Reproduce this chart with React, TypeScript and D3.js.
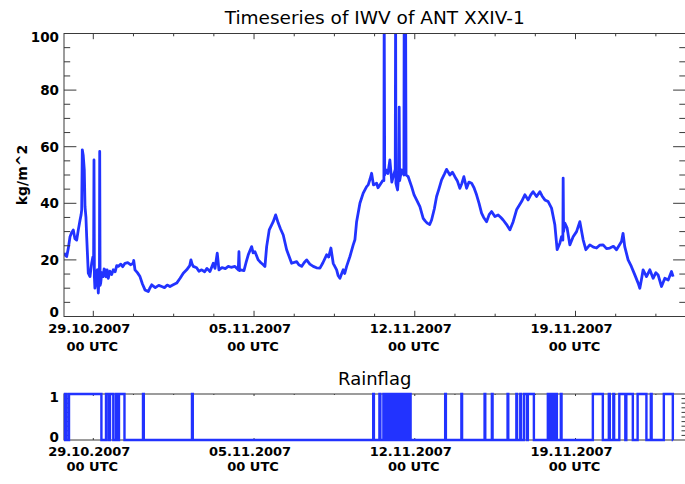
import React from "react";
import * as d3 from "d3";

// ---------- data ----------
// time in days since 29.10.2007 00 UTC
const iwvDays = [
  -1.276, -1.2, -1.158, -1.09, -1.014, -0.95, -0.871, -0.8, -0.723, -0.653, -0.579, -0.53, -0.505, -0.479, -0.44,
  -0.392, -0.361, -0.32, -0.287, -0.218, -0.144, -0.1, -0.07, -0.02, 0.013, 0.03, 0.048, 0.07, 0.104, 0.14, 0.174,
  0.218, 0.245, 0.266, 0.279, 0.296, 0.322, 0.37, 0.435, 0.47, 0.509, 0.56, 0.6, 0.653, 0.72, 0.8, 0.871, 0.95,
  1.02, 1.088, 1.2, 1.28, 1.38, 1.5, 1.62, 1.741, 1.76, 1.815, 1.92, 2.033, 2.14, 2.251, 2.394, 2.46, 2.542, 2.7,
  2.85, 2.978, 3.1, 3.22, 3.339, 3.48, 3.631, 3.78, 3.918, 4.066, 4.2, 4.253, 4.3, 4.354, 4.5, 4.6, 4.719, 4.85,
  4.95, 5.081, 5.224, 5.3, 5.398, 5.472, 5.6, 5.75, 5.877, 6.0, 6.169, 6.313, 6.343, 6.37, 6.417, 6.561, 6.65,
  6.748, 6.896, 6.96, 7.04, 7.183, 7.3, 7.401, 7.475, 7.549, 7.662, 7.836, 7.941, 8.054, 8.15, 8.272, 8.42, 8.637,
  8.855, 8.95, 9.073, 9.18, 9.29, 9.43, 9.578, 9.72, 9.87, 10.0, 10.161, 10.25, 10.348, 10.448, 10.597, 10.66,
  10.74, 10.81, 10.884, 10.95, 11.032, 11.176, 11.319, 11.393, 11.467, 11.611, 11.754, 11.903, 11.972, 12.05,
  12.12, 12.2, 12.338, 12.4, 12.481, 12.6, 12.655, 12.668, 12.69, 12.742, 12.83, 12.916, 13.0, 13.061, 13.15,
  13.165, 13.18, 13.25, 13.3, 13.321, 13.34, 13.425, 13.526, 13.539, 13.56, 13.6, 13.62, 13.714, 13.862, 13.97,
  14.079, 14.223, 14.367, 14.45, 14.541, 14.65, 14.732, 14.85, 14.95, 15.05, 15.168, 15.3, 15.385, 15.529, 15.64,
  15.747, 15.85, 15.964, 16.05, 16.139, 16.256, 16.36, 16.474, 16.58, 16.691, 16.8, 16.909, 17.0, 17.127, 17.24,
  17.345, 17.488, 17.632, 17.75, 17.849, 18.0, 18.141, 18.285, 18.433, 18.651, 18.794, 18.938, 19.05, 19.155,
  19.303, 19.447, 19.55, 19.665, 19.809, 19.956, 20.1, 20.2, 20.318, 20.392, 20.449, 20.462, 20.48, 20.535,
  20.636, 20.753, 20.897, 21.045, 21.189, 21.333, 21.45, 21.624, 21.78, 21.916, 22.05, 22.203, 22.35, 22.495,
  22.65, 22.786, 23.004, 23.07, 23.144, 23.291, 23.432, 23.583, 23.727, 23.801, 23.87, 23.944, 24.091, 24.236,
  24.38, 24.5, 24.597, 24.745, 24.889, 25.037, 25.179, 25.251,
];

const iwvValues = [
  22.4, 21.5, 21.2, 24, 28.2, 29.5, 30.6, 27.5, 27, 30.6, 34, 36, 37.7, 58.9, 57,
  51.8, 38.8, 35, 28, 15.3, 14.1, 17, 18.8, 21, 20, 55.3, 14, 10, 11.8, 16, 16.5,
  8.3, 13, 12, 58.3, 11, 11.8, 15.5, 14.1, 16.8, 16.5, 14, 16.5, 13.5, 16, 14.8, 16.5, 15.8,
  18, 17.7, 18.5, 17.6, 18.8, 19, 18.3, 18.8, 19.8, 16.5, 15.5, 14.1, 11.5, 9.4, 8.8, 10, 11.2, 10.2,
  11, 10.6, 10.2, 11.1, 10.6, 11.2, 11.8, 13.5, 15.3, 16.5, 18, 20, 18.6, 17.7, 17.2, 16, 16.5, 15.8,
  17, 15.9, 18.8, 17, 22.4, 16.5, 17.3, 16.9, 17.7, 17.4, 17.7, 16.5, 22.9, 16.2, 16.5, 16.2, 19,
  21.8, 24.7, 22.5, 22.9, 20, 19, 18.3, 17.7, 24.7, 30.6, 33.5, 35.9, 33, 31, 28.8, 23.6, 18.8,
  19.4, 18.3, 17.7, 19, 20, 18.5, 17.7, 17.2, 17.1, 19, 21.8, 21, 24.2, 18.8, 16.5, 14.5,
  13.5, 15, 16.5, 15.2, 17.7, 21.2, 25.3, 27.1, 33.5, 40, 43.6, 45.9, 46.5, 48.5,
  50.6, 46.5, 47.1, 45.5, 46.5, 48, 48, 110, 50, 51.8, 50.5, 55.3, 47.5, 49.4, 52,
  110, 47, 44.7, 50, 74, 48, 51.8, 50, 110, 52, 110, 50, 49.4, 45.9, 43,
  41.2, 38.8, 34.7, 33.8, 33, 32.5, 34.1, 38, 42.4, 45, 48.3, 50.5, 52, 50, 51,
  49.4, 48, 45.3, 47, 49.4, 45.3, 47.5, 47.1, 45.5, 43, 40, 36.5, 35, 33.5, 36,
  37.1, 35.3, 35.9, 35, 34.1, 32.5, 30.6, 33.5, 37.7, 40.6, 43, 41.2, 43, 44.1,
  42.4, 44.1, 42.5, 41.2, 40.6, 38.3, 32.4, 23.6, 25.9, 28.2, 27, 48.9, 30, 33,
  31.2, 25.3, 28.2, 30, 33.5, 27.1, 23.6, 25.3, 24.5, 24.2, 25.2, 25.3, 24, 24.2,
  24.8, 23.6, 26.5, 29.4, 24.7, 20, 17.7, 14.7, 11.8, 10, 13, 16.5, 14.1, 16.5,
  13.5, 15.5, 14.7, 10.6, 13.5, 12.9, 15.9, 14.1,
];

// rain flag = 1 between rainStart[i] and rainEnd[i] (days), 0 otherwise
const rainStart = [
  -1.232, -1.058, 0.553, 0.727, 0.988, 1.119, 2.164, 4.297, 12.19, 12.46, 12.633, 12.72, 12.851, 12.938, 13.069,
  13.156, 13.286, 13.374, 13.504, 13.591, 13.722, 15.324, 16.03, 17.04, 17.357, 18.041, 18.424, 18.594, 18.751,
  18.925, 19.795, 19.882, 19.991, 20.1, 20.361, 21.755, 22.451, 22.647, 22.908, 23.213, 23.705, 24.28, 24.846,
];
const rainEnd = [
  -1.167, 0.353, 0.662, 0.871, 1.032, 1.358, 2.199, 4.332, 12.22, 12.503, 12.677, 12.807, 12.894, 13.025, 13.112,
  13.243, 13.33, 13.461, 13.548, 13.678, 13.818, 15.355, 16.06, 17.07, 17.388, 18.072, 18.455, 18.62, 18.881,
  19.187, 19.839, 19.948, 20.057, 20.187, 20.392, 22.19, 22.495, 22.682, 23.169, 23.496, 24.088, 24.315, 25.238,
];
const rainDataStart = -1.276;
const rainDataEnd = 25.251;

const axisStartDay = -1.276;
const axisEndDay = 25.79;
const majorTickDays = [0, 7, 14, 21];
const dateLabels = ["29.10.2007", "05.11.2007", "12.11.2007", "19.11.2007"];
const timeLabel = "00 UTC";
const minorStepDays = 1.75;
const iwvTicks = [0, 20, 40, 60, 80, 100];
const rainTicks = [0, 1];

// ---------- layout ----------
const W = 685;
const H = 484;
const L = 64;
const R = 685.5;
const T1 = 33.5;
const B1 = 316.5;
const T2 = 394;
const B2 = 440;
const BLUE = "#2233ff";
const AX = "#3a3a3a";
const FONT = "'DejaVu Sans', sans-serif";

const epoch = Date.UTC(2007, 9, 29);
const toDate = (d: number) => new Date(epoch + d * 86400000);

export default function App() {
  const x = d3.scaleUtc().domain([toDate(axisStartDay), toDate(axisEndDay)]).range([L, R]);
  const y1 = d3.scaleLinear().domain([0, 100]).range([B1, T1]);
  const y2 = d3.scaleLinear().domain([0, 1]).range([B2, T2]);

  const iwvPts: [number, number][] = iwvDays.map((d, i) => [d, iwvValues[i]]);
  const iwvPath = d3
    .line<[number, number]>()
    .x((p) => x(toDate(p[0])))
    .y((p) => y1(p[1]))(iwvPts) as string;

  const rainPts: [number, number][] = [[rainDataStart, 0]];
  rainStart.forEach((s, i) => {
    rainPts.push([s, 0], [s, 1], [rainEnd[i], 1], [rainEnd[i], 0]);
  });
  rainPts.push([rainDataEnd, 0]);
  const rainPath = d3
    .line<[number, number]>()
    .x((p) => x(toDate(p[0])))
    .y((p) => y2(p[1]))(rainPts) as string;

  const minorDays: number[] = [];
  for (let d = 0; d <= axisEndDay; d += minorStepDays) {
    if (majorTickDays.indexOf(d) < 0) minorDays.push(d);
  }
  const yMinor1: number[] = [];
  for (let v = 0; v <= 100; v += 5) if (v % 20 !== 0) yMinor1.push(v);
  const yMinor2: number[] = [];
  for (let k = 1; k < 10; k++) yMinor2.push(k / 10);

  const xTicks = (top: number, bottom: number, majLen: number, minLen: number) => (
    <g stroke={AX} strokeWidth={1}>
      {majorTickDays.map((d) => {
        const px = x(toDate(d));
        return (
          <g key={"M" + d}>
            <line x1={px} x2={px} y1={bottom} y2={bottom - majLen} />
            <line x1={px} x2={px} y1={top} y2={top + majLen} />
          </g>
        );
      })}
      {minorDays.map((d) => {
        const px = x(toDate(d));
        return (
          <g key={"m" + d}>
            <line x1={px} x2={px} y1={bottom} y2={bottom - minLen} />
            <line x1={px} x2={px} y1={top} y2={top + minLen} />
          </g>
        );
      })}
    </g>
  );

  const dateText = (axisY: number, gap: number) =>
    majorTickDays.map((d, i) => {
      const px = x(toDate(d));
      return (
        <g key={"dl" + d} fontFamily={FONT} fontWeight="bold" fontSize={13} fill="#000">
          <text x={px - 4} y={axisY + 16} textAnchor="middle">
            {dateLabels[i]}
          </text>
          <text x={px - 1} y={axisY + 16 + gap} textAnchor="middle">
            {timeLabel}
          </text>
        </g>
      );
    });

  const cx = (L + R) / 2;
  // extreme labels sit slightly inside the frame, as in the original
  const labelShift = (v: number, lo: number, hi: number) => (v === hi ? 4 : v === lo ? -4 : 0);

  return (
    <svg
      width={W}
      height={H}
      viewBox={`0 0 ${W} ${H}`}
      style={{ position: "absolute", left: 0, top: 0, background: "#fff" }}
    >
      <defs>
        <clipPath id="clip1">
          <rect x={L} y={T1} width={R - L} height={B1 - T1} />
        </clipPath>
      </defs>
      <rect x={0} y={0} width={W} height={H} fill="#fff" />

      {/* top panel */}
      <text x={cx} y={24} textAnchor="middle" fontFamily={FONT} fontSize={18.5} fill="#000">
        Timeseries of IWV of ANT XXIV-1
      </text>
      <path d={iwvPath} fill="none" stroke={BLUE} strokeWidth={2.8} strokeLinejoin="round" clipPath="url(#clip1)" />
      <rect x={L} y={T1} width={R - L} height={B1 - T1} fill="none" stroke={AX} strokeWidth={1} />
      {xTicks(T1, B1, 5.7, 2.8)}
      <g stroke={AX} strokeWidth={1}>
        {iwvTicks.map((v) => (
          <g key={"yt" + v}>
            <line x1={L} x2={L + 12.4} y1={y1(v)} y2={y1(v)} />
            <line x1={R} x2={R - 12.4} y1={y1(v)} y2={y1(v)} />
          </g>
        ))}
        {yMinor1.map((v) => (
          <g key={"ym" + v}>
            <line x1={L} x2={L + 6.2} y1={y1(v)} y2={y1(v)} />
            <line x1={R} x2={R - 6.2} y1={y1(v)} y2={y1(v)} />
          </g>
        ))}
      </g>
      <g fontFamily={FONT} fontWeight="bold" fontSize={13.5} fill="#000">
        {iwvTicks.map((v) => (
          <text key={"yl" + v} x={L - 5} y={y1(v) + labelShift(v, 0, 100)} dy="0.36em" textAnchor="end">
            {v}
          </text>
        ))}
      </g>
      <text
        transform={`translate(22,${(T1 + B1) / 2}) rotate(-90)`}
        textAnchor="middle"
        dy="0.36em"
        fontFamily={FONT}
        fontWeight="bold"
        fontSize={14}
        fill="#000"
      >
        kg/m^2
      </text>
      {dateText(B1, 18)}

      {/* rain flag panel */}
      <text x={cx} y={385} textAnchor="middle" fontFamily={FONT} fontSize={18} fill="#000">
        Rainflag
      </text>
      <rect x={L} y={T2} width={R - L} height={B2 - T2} fill="none" stroke={AX} strokeWidth={1} />
      {xTicks(T2, B2, 2, 1)}
      <g stroke={AX} strokeWidth={1}>
        {yMinor2.map((v) => (
          <g key={"rm" + v}>
            <line x1={L} x2={L + 4} y1={y2(v)} y2={y2(v)} />
            <line x1={R} x2={R - 4} y1={y2(v)} y2={y2(v)} />
          </g>
        ))}
      </g>
      <path d={rainPath} fill="none" stroke={BLUE} strokeWidth={2.4} strokeLinejoin="miter" />
      <g fontFamily={FONT} fontWeight="bold" fontSize={13.5} fill="#000">
        {rainTicks.map((v) => (
          <text key={"rl" + v} x={L - 5} y={y2(v) + labelShift(v, 0, 1) * 0.75} dy="0.36em" textAnchor="end">
            {v}
          </text>
        ))}
      </g>
      {dateText(B2, 15)}
    </svg>
  );
}
